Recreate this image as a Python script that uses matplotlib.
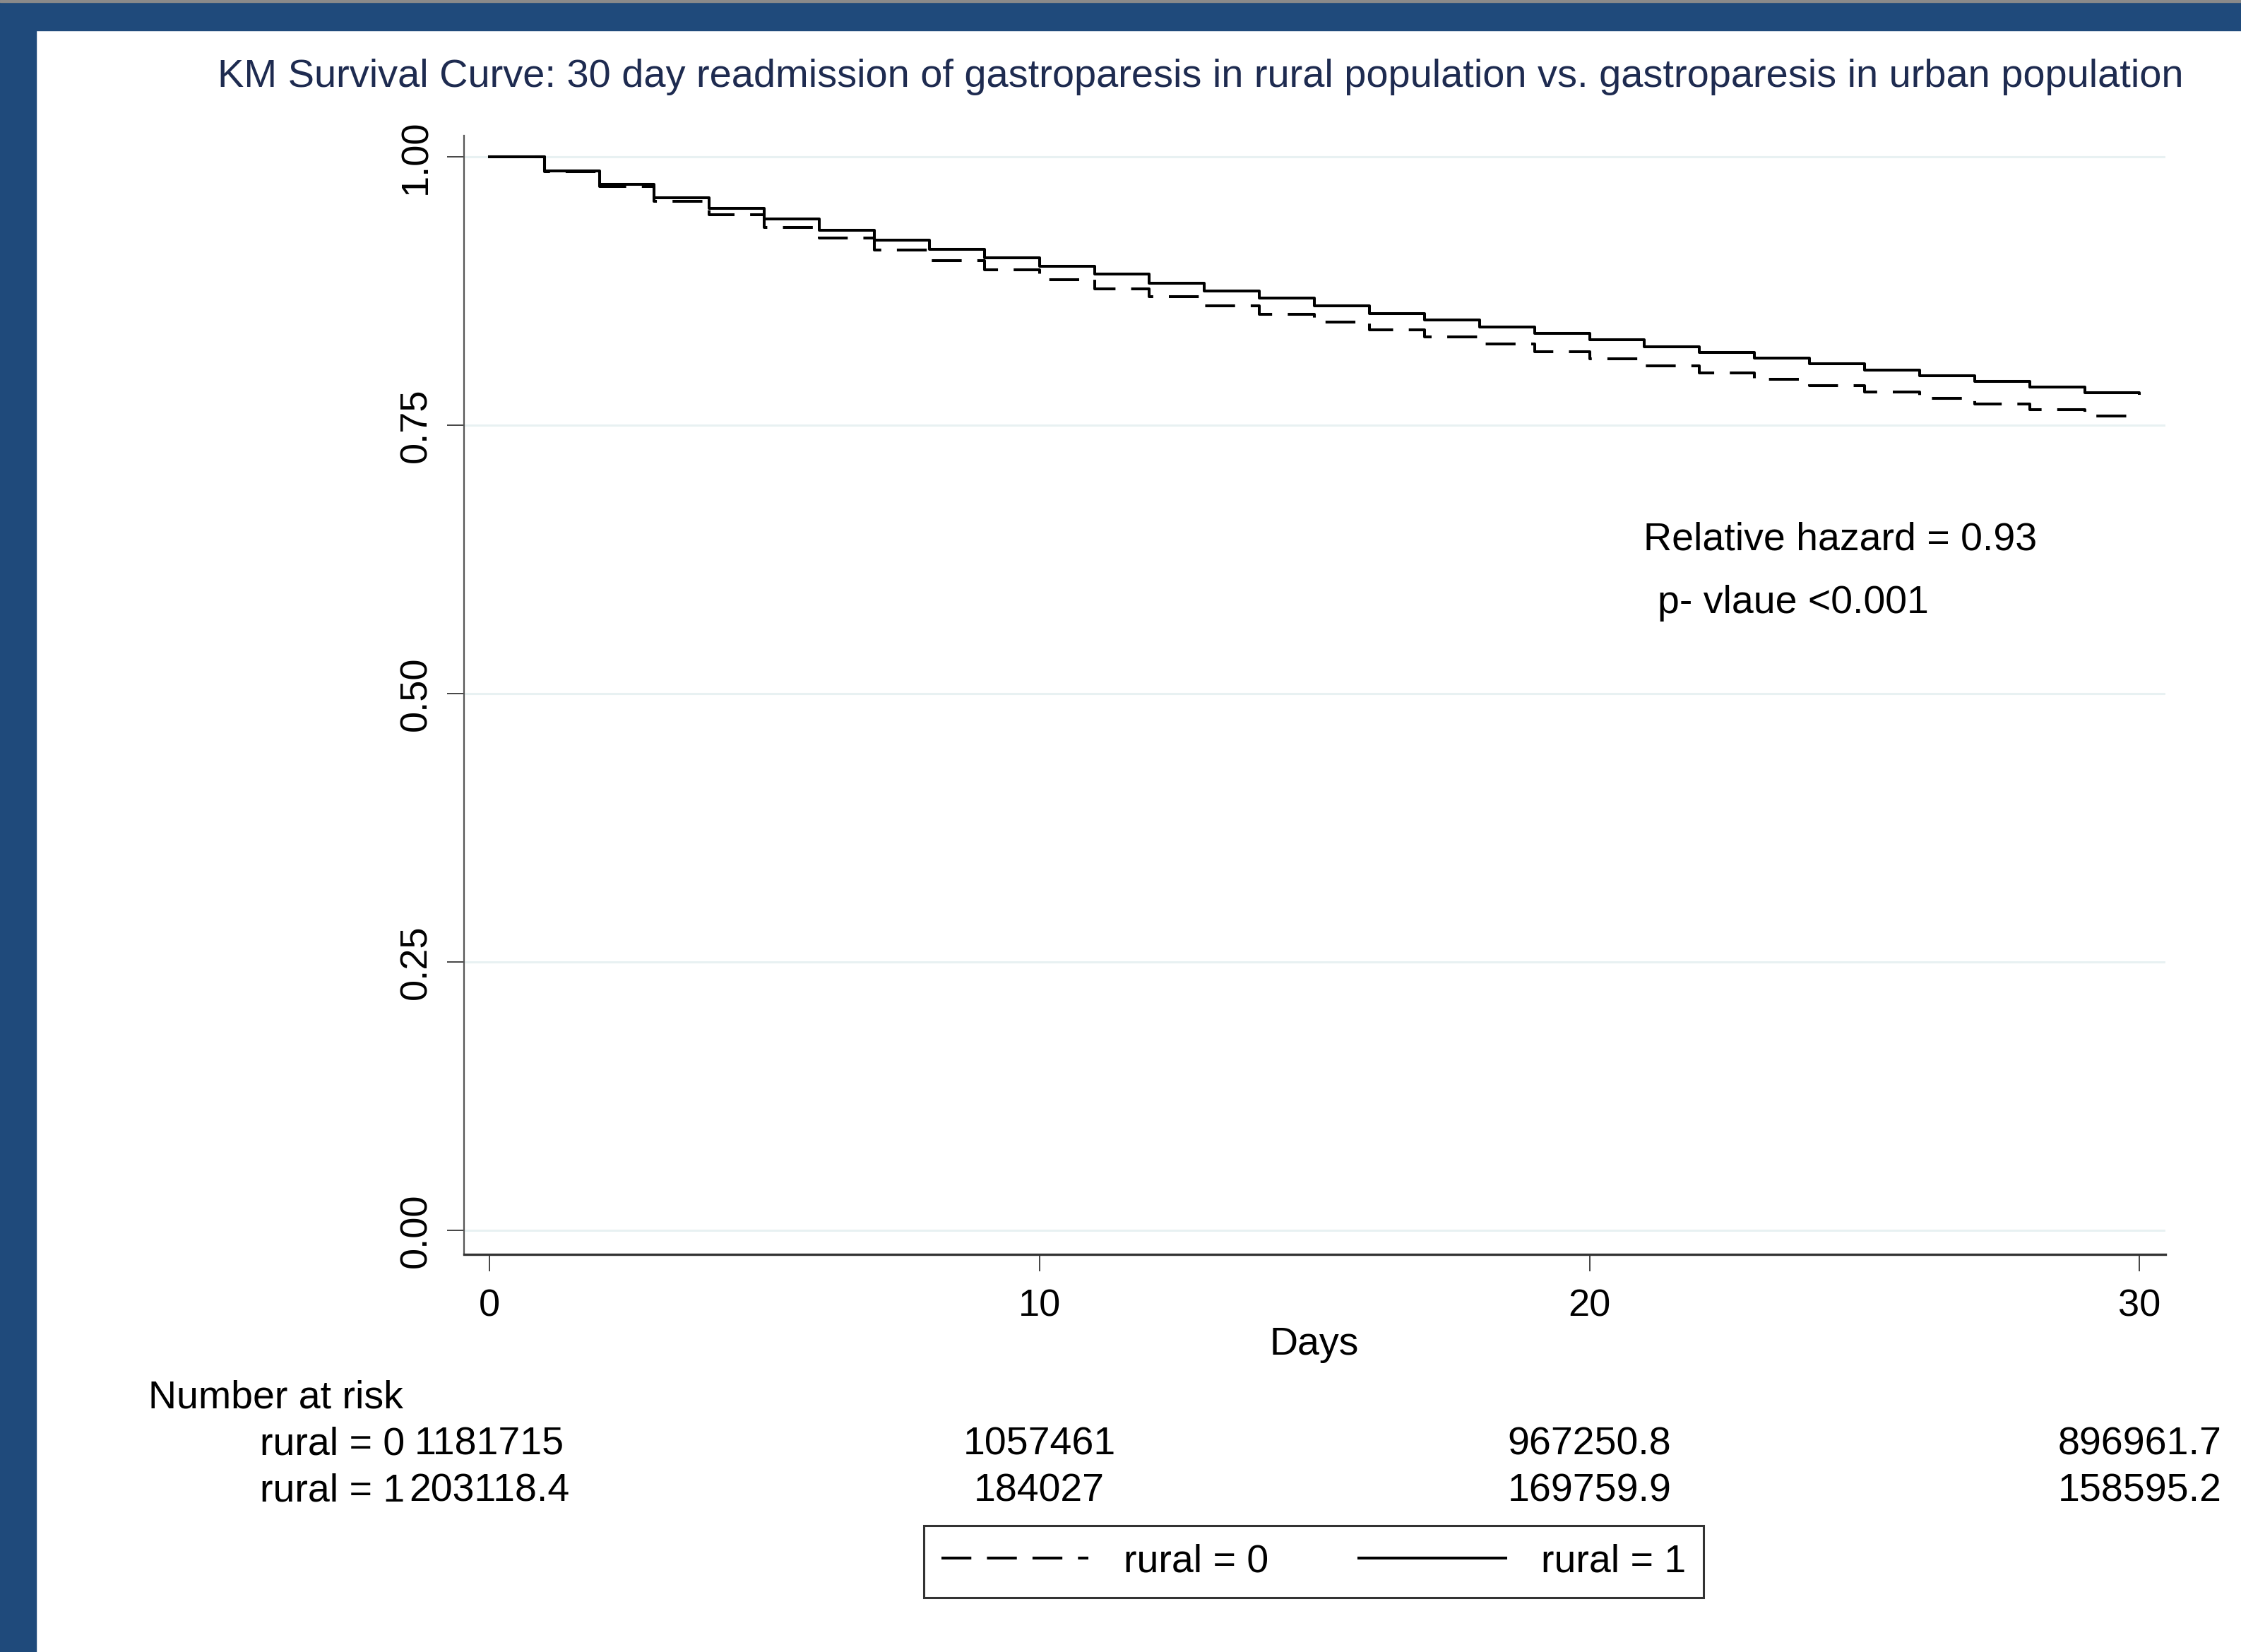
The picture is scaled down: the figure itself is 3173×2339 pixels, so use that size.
import numpy as np
import matplotlib
matplotlib.use("Agg")
import matplotlib.pyplot as plt
from matplotlib.patches import Rectangle
from matplotlib.lines import Line2D
import matplotlib.transforms as mtransforms

plt.rcParams['font.family'] = ['Liberation Sans', 'DejaVu Sans']

# ---------------- data ----------------
days = list(range(0, 31))
surv_rural0 = [1.000, 0.9862, 0.9723, 0.9587, 0.9462, 0.9345, 0.9241, 0.9132, 0.9033, 0.8945,
               0.8858, 0.8770, 0.8695, 0.8614, 0.8532, 0.8460, 0.8390, 0.8324, 0.8253, 0.8187,
               0.8115, 0.8049, 0.7988, 0.7928, 0.7867, 0.7807, 0.7752, 0.7698, 0.7643, 0.7588,
               0.7588]
surv_rural1 = [1.000, 0.9866, 0.9745, 0.9620, 0.9521, 0.9422, 0.9315, 0.9224, 0.9141, 0.9060,
               0.8983, 0.8910, 0.8825, 0.8752, 0.8682, 0.8609, 0.8539, 0.8477, 0.8415, 0.8357,
               0.8295, 0.8231, 0.8174, 0.8122, 0.8071, 0.8016, 0.7961, 0.7906, 0.7856, 0.7803,
               0.7795]
risk_days = [0, 10, 20, 30]
risk_rural0 = ["1181715", "1057461", "967250.8", "896961.7"]
risk_rural1 = ["203118.4", "184027", "169759.9", "158595.2"]
group_labels = ["rural = 0", "rural = 1"]
y_ticks = [0.00, 0.25, 0.50, 0.75, 1.00]
y_ticklabels = ["0.00", "0.25", "0.50", "0.75", "1.00"]
x_ticks = [0, 10, 20, 30]
title = ("KM Survival Curve: 30 day readmission of gastroparesis in rural population "
         "vs. gastroparesis in urban population")
annot1 = "Relative hazard = 0.93"
annot2 = "p- vlaue <0.001"

# ---------------- figure ----------------
W, H = 3173, 2339
fig = plt.figure(figsize=(W / 100, H / 100), dpi=100)
fig.patch.set_facecolor('white')

def fx(px):
    return px / W

def fy(py):
    return 1 - py / H

blue = '#1f4a7b'
fig.add_artist(Rectangle((0, 0), fx(51), 1, transform=fig.transFigure, color=blue, zorder=0))
fig.add_artist(Rectangle((0, fy(43)), 1, 43 / H, transform=fig.transFigure, color=blue, zorder=0))
fig.add_artist(Rectangle((0, fy(3)), 1, 3 / H, transform=fig.transFigure, color='#8a8a8a', zorder=1))

ax = fig.add_axes([fx(657), fy(1776), fx(3066) - fx(657), fy(192) - fy(1776)])
ax.set_xlim(-0.46, 30.47)
ax.set_ylim(-0.0224, 1.0197)

for y in y_ticks:
    ax.axhline(y, color='#e8f1f2', lw=2.2, zorder=0)

ax.step(days, surv_rural0, where='post', color='black', lw=2.9,
        linestyle=(0, (10.5, 5.5)), zorder=3)
ax.step(days, surv_rural1, where='post', color='black', lw=2.9, zorder=3)

for s in ['top', 'right']:
    ax.spines[s].set_visible(False)
ax.spines['left'].set_color('#555555')
ax.spines['left'].set_linewidth(1.6)
ax.spines['bottom'].set_color('#333333')
ax.spines['bottom'].set_linewidth(2.4)

ax.set_yticks(y_ticks)
ax.set_yticklabels(y_ticklabels, rotation=90, va='center', fontsize=39)
ax.set_xticks(x_ticks)
ax.set_xticklabels([str(v) for v in x_ticks], fontsize=39)
ax.tick_params(axis='y', length=17, width=1.4, pad=14, colors='#444444', labelcolor='black')
ax.tick_params(axis='x', length=17, width=1.4, pad=18, colors='#444444', labelcolor='black')

# title
fig.text(fx(1700), fy(109), title, ha='center', va='center', fontsize=40.3, color='#1e2b50')
# x label
fig.text(fx(1861), fy(1904), "Days", ha='center', va='center', fontsize=40)

# annotations
ax.text(fx(2327), fy(765), annot1, transform=fig.transFigure, ha='left', va='center', fontsize=40)
ax.text(fx(2347), fy(854), annot2, transform=fig.transFigure, ha='left', va='center', fontsize=40)

# number at risk table
fig.text(fx(210), fy(1979), "Number at risk", ha='left', va='center', fontsize=40)
blend = mtransforms.blended_transform_factory(ax.transData, fig.transFigure)
for row_y, lab, vals in [(fy(2046), group_labels[0], risk_rural0),
                         (fy(2111), group_labels[1], risk_rural1)]:
    fig.text(fx(368), row_y, lab, ha='left', va='center', fontsize=40)
    for d, v in zip(risk_days, vals):
        ax.text(d, row_y, v, transform=blend, ha='center', va='center', fontsize=40, clip_on=False)

# legend
handles = [Line2D([], [], color='black', lw=2.9, linestyle=(0, (10.5, 5.5))),
           Line2D([], [], color='black', lw=2.9)]
leg = ax.legend(handles, group_labels, loc='center', bbox_to_anchor=(fx(1860), fy(2211)),
                bbox_transform=fig.transFigure, ncol=2, fontsize=40, frameon=True,
                fancybox=False, edgecolor='black', handlelength=3.75, handletextpad=0.9,
                columnspacing=2.3, borderpad=0.45)
leg.get_frame().set_linewidth(2.2)

fig.savefig('out.png', dpi=100, facecolor='white')
